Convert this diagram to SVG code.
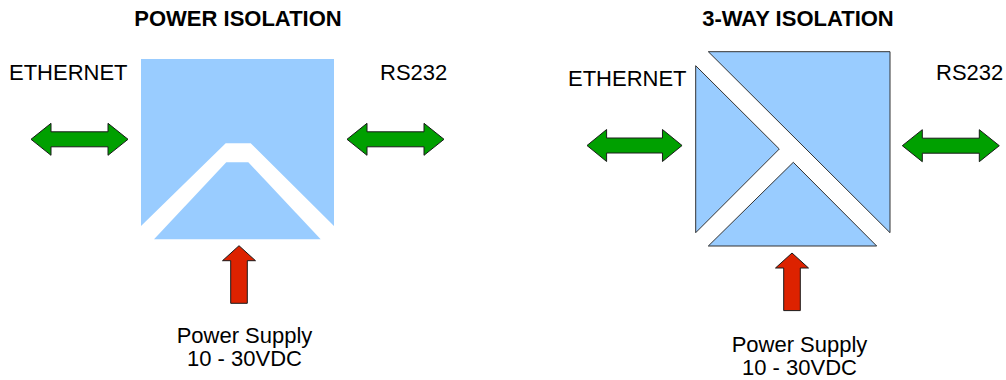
<svg xmlns="http://www.w3.org/2000/svg" xmlns:xlink="http://www.w3.org/1999/xlink" width="1006" height="380" viewBox="0 0 1006 380">
<style>
text{font-family:"Liberation Sans",Arial,sans-serif;font-size:22px;fill:#000}
.title{font-weight:bold;text-anchor:middle}
.mid{text-anchor:middle}
.blk{fill:#99ccff}
.blk2{fill:#99ccff;stroke:#333;stroke-width:1}
.green{fill:#00a000;stroke:#1a1a1a;stroke-width:1}
.red{fill:#dd2200;stroke:#1a1a1a;stroke-width:1}
</style>
<defs>
<path id="dbl" d="M0,0 L20,-16 L20,-7.5 L77,-7.5 L77,-16 L97,0 L77,16 L77,7.5 L20,7.5 L20,16 Z"/>
<path id="up" d="M0,0 L16.5,15 L8.3,15 L8.3,57.6 L-8.3,57.6 L-8.3,15 L-16.5,15 Z"/>
</defs>
<g id="titles">
<text class="title" x="238" y="25.7">POWER ISOLATION</text>
<text class="title" x="798" y="25.7">3-WAY ISOLATION</text>
</g>
<g id="power-isolator">
<path class="blk" d="M141,59 L334,59 L334,226 L250.7,143.3 L225.7,143.3 L141,226 Z"/>
<path class="blk" d="M226.3,162.3 L248.3,162.3 L320.7,239.3 L154,239.3 Z"/>
</g>
<g id="threeway-isolator">
<path class="blk2" d="M708.3,51.7 L890,51.7 L890,232.7 Z"/>
<path class="blk2" d="M695.7,65.7 L779.3,149 L695.7,232.7 Z"/>
<path class="blk2" d="M793.3,162.3 L876.7,246 L708.3,246 Z"/>
</g>
<g id="labels">
<g id="eth1"><text x="9" y="80">ETHERNET</text></g>
<g id="rs1"><text x="380" y="80">RS232</text></g>
<g id="eth2"><text x="568" y="85.7">ETHERNET</text></g>
<g id="rs2"><text x="936" y="80">RS232</text></g>
<g id="ps1"><text class="mid" x="244.5" y="343">Power Supply</text><text class="mid" x="244.5" y="366">10 - 30VDC</text></g>
<g id="ps2"><text class="mid" x="799.5" y="352">Power Supply</text><text class="mid" x="799.5" y="375">10 - 30VDC</text></g>
</g>
<g id="connectors">
<use xlink:href="#dbl" class="green" transform="translate(31,139.3)"/>
<use xlink:href="#dbl" class="green" transform="translate(347,139.3)"/>
<use xlink:href="#dbl" class="green" transform="translate(587,145.5) scale(0.98,1)"/>
<use xlink:href="#dbl" class="green" transform="translate(902.3,145.7)"/>
<use xlink:href="#up" class="red" transform="translate(239,245.7)"/>
<use xlink:href="#up" class="red" transform="translate(792,253)"/>
</g>
</svg>
